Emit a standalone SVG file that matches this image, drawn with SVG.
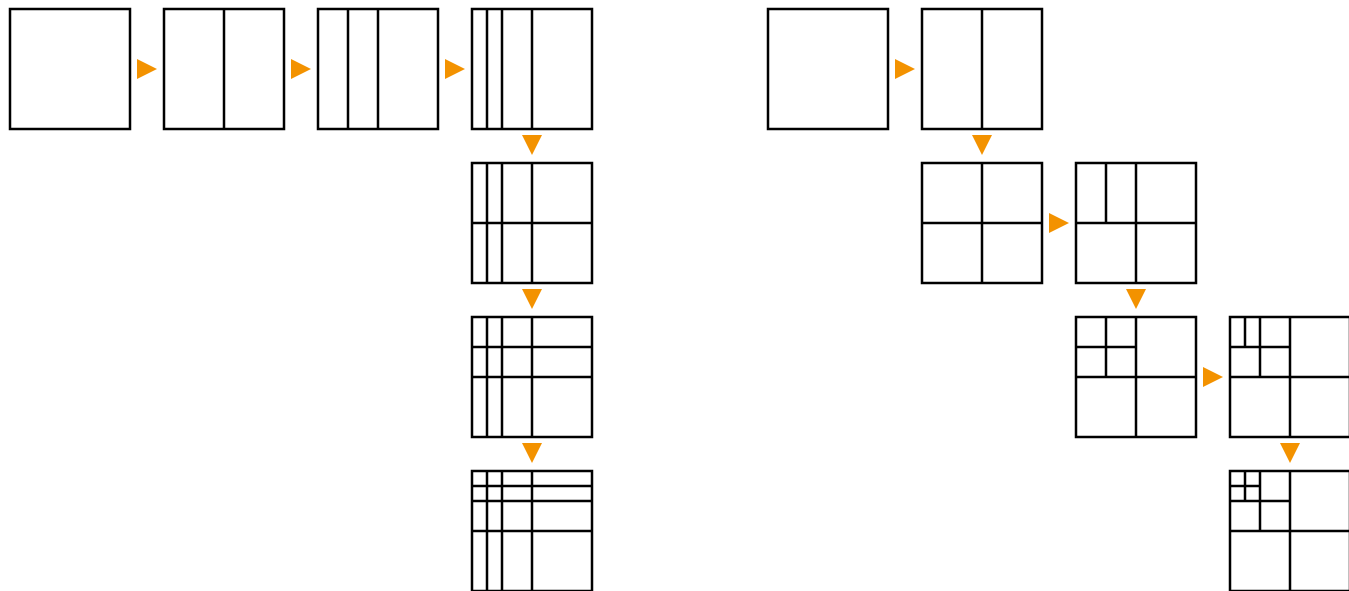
<svg xmlns="http://www.w3.org/2000/svg" width="1349" height="591" viewBox="0 0 1349 591">
<style>
.b{fill:#fff;stroke:#000;stroke-width:2.5}
.l{stroke:#000;stroke-width:2.5;fill:none}
.a{fill:#f39200;stroke:none}
</style>
<defs>
<polygon id="ar" class="a" points="0,-10 20,0 0,10"/>
<polygon id="ad" class="a" points="-10,0 10,0 0,20"/>
</defs>
<rect width="1349" height="591" fill="#fff"/>
<g id="connectors">
<use href="#ar" x="137" y="69"/>
<use href="#ar" x="291" y="69"/>
<use href="#ar" x="445" y="69"/>
<use href="#ad" x="532" y="135"/>
<use href="#ad" x="532" y="289"/>
<use href="#ad" x="532" y="443"/>
<use href="#ar" x="895" y="69"/>
<use href="#ad" x="982" y="135"/>
<use href="#ar" x="1049" y="223"/>
<use href="#ad" x="1136" y="289"/>
<use href="#ar" x="1203" y="377"/>
<use href="#ad" x="1290" y="443"/>
</g>
<g id="L1"><rect class="b" x="10" y="9" width="120" height="120"/></g>
<g id="L2"><rect class="b" x="164" y="9" width="120" height="120"/><path class="l" d="M224 9V129"/></g>
<g id="L3"><rect class="b" x="318" y="9" width="120" height="120"/><path class="l" d="M378 9V129M348 9V129"/></g>
<g id="L4"><rect class="b" x="472" y="9" width="120" height="120"/><path class="l" d="M532 9V129M502 9V129M487 9V129"/></g>
<g id="L5"><rect class="b" x="472" y="163" width="120" height="120"/><path class="l" d="M532 163V283M502 163V283M487 163V283M472 223H592"/></g>
<g id="L6"><rect class="b" x="472" y="317" width="120" height="120"/><path class="l" d="M532 317V437M502 317V437M487 317V437M472 377H592M472 347H592"/></g>
<g id="L7"><rect class="b" x="472" y="471" width="120" height="120"/><path class="l" d="M532 471V591M502 471V591M487 471V591M472 531H592M472 501H592M472 486H592"/></g>
<g id="R1"><rect class="b" x="768" y="9" width="120" height="120"/></g>
<g id="R2"><rect class="b" x="922" y="9" width="120" height="120"/><path class="l" d="M982 9V129"/></g>
<g id="R3"><rect class="b" x="922" y="163" width="120" height="120"/><path class="l" d="M982 163V283M922 223H1042"/></g>
<g id="R4"><rect class="b" x="1076" y="163" width="120" height="120"/><path class="l" d="M1136 163V283M1076 223H1196M1106 163V223"/></g>
<g id="R5"><rect class="b" x="1076" y="317" width="120" height="120"/><path class="l" d="M1136 317V437M1076 377H1196M1106 317V377M1076 347H1136"/></g>
<g id="R6"><rect class="b" x="1230" y="317" width="120" height="120"/><path class="l" d="M1290 317V437M1230 377H1350M1260 317V377M1230 347H1290M1245 317V347"/></g>
<g id="R7"><rect class="b" x="1230" y="471" width="120" height="120"/><path class="l" d="M1290 471V591M1230 531H1350M1260 471V531M1230 501H1290M1245 471V501M1230 486H1260"/></g>
</svg>
